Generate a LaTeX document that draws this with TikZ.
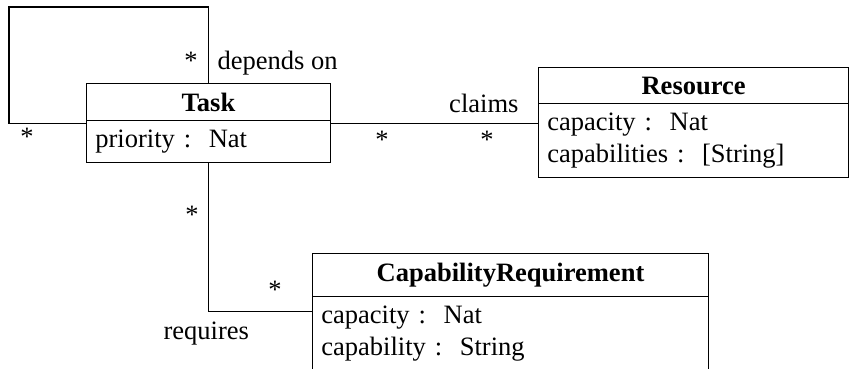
\documentclass[tikz,border=0pt]{standalone}
\usepackage{fontspec}
\setmainfont{Liberation Serif}
\usetikzlibrary{shapes.multipart}
\tikzset{
  umlclass/.style={rectangle split, rectangle split parts=2, draw, anchor=north west, inner sep=3.33pt},
  mult/.style={inner sep=0pt},
  role/.style={inner sep=0pt},
}
\newcommand{\clsname}[1]{\hfill\textbf{#1}\hfill\mbox{}}
\begin{document}
\begin{tikzpicture}[x=0.377pt, y=-0.377pt]
\useasboundingbox (0,0) rectangle (849,369);
% classes
\node[umlclass, text width=85.3pt] (task) at (86,83) {\clsname{Task}\nodepart{second}priority :\ \ Nat};
\node[umlclass, text width=110.3pt] (res) at (538,67) {\clsname{Resource}\nodepart{second}capacity :\ \ Nat\\capabilities :\ \ [String]};
\node[umlclass, text width=142.6pt] (req) at (312,253) {\clsname{CapabilityRequirement}\nodepart{second}capacity :\ \ Nat\\capability :\ \ String};
% associations
\coordinate (loopc) at (9,7);
\draw (task.west) -| (loopc) -| (task.north);
\draw (task.east) -- (task.east -| res.west);
\draw (task.south) |- (req.west);
% labels
\node[mult] (m1) at (191,61) {*};
\node[mult] (m2) at (27,137) {*};
\node[role, anchor=base west] (dep) at (217,70) {depends on};
\node[mult] (m3) at (382,140) {*};
\node[mult] (m4) at (487,140) {*};
\node[role, anchor=base east] (cl) at (519,113) {claims};
\node[mult] (m5) at (192,215) {*};
\node[mult] (m6) at (275,290) {*};
\node[role, anchor=base west] (rq) at (163,340) {requires};
\end{tikzpicture}
\end{document}
